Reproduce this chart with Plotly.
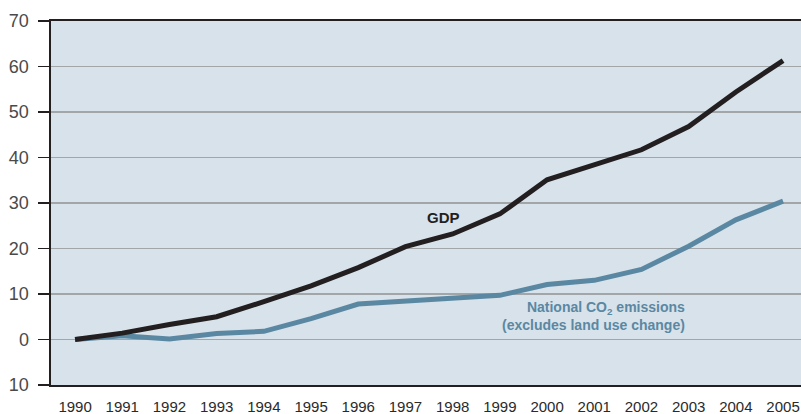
import plotly.graph_objects as go

years = list(range(1990, 2006))
gdp = [0, 1.4, 3.3, 5.0, 8.3, 11.8, 15.8, 20.4, 23.2, 27.6, 35.1, 38.5, 41.7, 46.8, 54.4, 61.3]
co2 = [0, 0.8, 0.1, 1.3, 1.8, 4.6, 7.8, 8.4, 9.0, 9.7, 12.1, 13.0, 15.4, 20.5, 26.3, 30.4]

y_tickvals = [-10, 0, 10, 20, 30, 40, 50, 60, 70]
y_ticktext = ["10", "0", "10", "20", "30", "40", "50", "60", "70"]
x_ticktext = [str(y) for y in years]

DARK = "#231f20"
BLUE = "#5a88a3"

fig = go.Figure()
fig.add_trace(go.Scatter(x=years, y=co2, mode="lines",
                         line=dict(color=BLUE, width=5), hoverinfo="skip"))
fig.add_trace(go.Scatter(x=years, y=gdp, mode="lines",
                         line=dict(color=DARK, width=5), hoverinfo="skip"))

fig.add_annotation(x=1997.8, y=26.8, text="<b>GDP</b>", showarrow=False,
                   font=dict(family="Liberation Sans, Arial, sans-serif", size=15, color=DARK))
fig.add_annotation(x=2002.97, y=5.2,
                   text="<b>National CO<sub>2</sub> emissions</b><br><b>(excludes land use change)</b>",
                   showarrow=False, xanchor="right", align="right",
                   font=dict(family="Liberation Sans, Arial, sans-serif", size=14, color=BLUE))

fig.update_layout(
    width=801, height=414,
    margin=dict(l=51, r=0, t=21, b=29),
    paper_bgcolor="white",
    plot_bgcolor="#d8e2ea",
    showlegend=False,
    hovermode=False,
    xaxis=dict(
        range=[1989.49, 2005.38],
        tickvals=years, ticktext=x_ticktext,
        showgrid=False, zeroline=False,
        showline=True, mirror=True, linecolor=DARK, linewidth=2,
        ticks="", ticklabelstandoff=7, automargin=False,
        tickfont=dict(family="Liberation Sans, Arial, sans-serif",
                      size=15, color="#2a2a2a"),
    ),
    yaxis=dict(
        range=[-10, 70],
        tickvals=y_tickvals, ticktext=y_ticktext,
        showgrid=True, gridcolor="#a3a6a9", gridwidth=1.5,
        zeroline=False, automargin=False,
        showline=True, linecolor=DARK, linewidth=2.5,
        ticks="outside", ticklen=11, tickcolor=DARK, tickwidth=1.5,
        ticklabelstandoff=5,
        tickfont=dict(family="Liberation Sans, Arial, sans-serif", size=18, color="#4a4a4a"),
    ),
)

fig.write_html("out.html",
               config={"displayModeBar": False, "staticPlot": True},
               post_script="document.body.style.margin='0';document.body.style.overflow='hidden';")
